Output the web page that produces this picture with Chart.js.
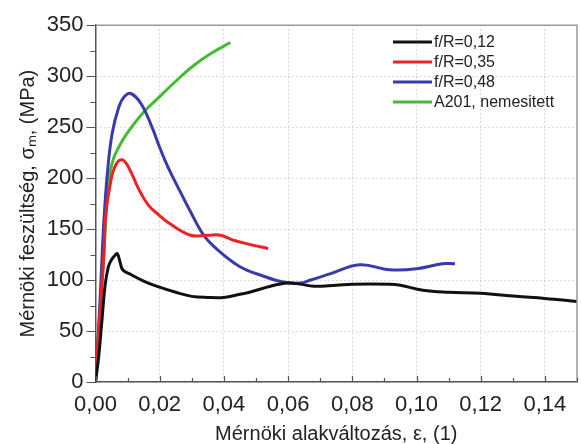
<!DOCTYPE html>
<html>
<head>
<meta charset="utf-8">
<script src="https://cdn.jsdelivr.net/npm/chart.js@4.4.1/dist/chart.umd.min.js"></script>
<style>
  html, body { margin: 0; padding: 0; background: #fff; }
  #wrap { width: 581px; height: 444px; position: relative; }
</style>
</head>
<body>
<div id="wrap"><canvas id="stressChart"></canvas></div>
<script>
// f/R=0,12
const eps012 = [0, 0.001, 0.002, 0.003, 0.004, 0.005, 0.006, 0.0068, 0.0077, 0.0085, 0.0113, 0.0150, 0.0190, 0.025, 0.030, 0.035, 0.040, 0.045, 0.048, 0.0545, 0.060, 0.0637, 0.068, 0.075, 0.080, 0.0917, 0.095, 0.102, 0.110, 0.120, 0.131, 0.140, 0.150];
const sig012 = [0, 25, 60, 95, 113, 120, 124, 126, 117, 110, 105, 99, 94, 88, 84, 83, 83, 86, 88, 94, 97, 96, 94, 95, 96, 96, 95, 90, 88, 87, 84, 82, 79];
// f/R=0,35
const eps035 = [0, 0.0010, 0.0022, 0.0027, 0.0032, 0.0047, 0.0063, 0.0083, 0.0104, 0.0135, 0.0166, 0.0197, 0.0224, 0.0296, 0.0348, 0.039, 0.043, 0.048, 0.0538];
const sig035 = [0, 50, 105, 130, 164, 196, 213, 218, 210, 189, 173, 164, 157, 144, 144, 144, 139, 135, 131];
// f/R=0,48
const eps048 = [0, 0.0010, 0.0017, 0.0026, 0.0037, 0.0052, 0.0073, 0.0090, 0.0110, 0.0142, 0.0176, 0.0200, 0.0224, 0.0265, 0.0296, 0.0337, 0.0379, 0.045, 0.0522, 0.0585, 0.0637, 0.067, 0.073, 0.0823, 0.0917, 0.100, 0.108, 0.112];
const sig048 = [0, 55, 99, 157, 205, 244, 270, 280, 283, 273, 250, 230, 212, 186, 167, 144, 130, 113, 104, 98, 97, 100, 106, 115, 110, 111, 116, 116];
// A201, nemesitett
const epsA201 = [0, 0.0010, 0.0022, 0.0032, 0.0038, 0.0046, 0.0057, 0.0075, 0.0094, 0.0145, 0.0200, 0.0250, 0.0300, 0.0358, 0.0420];
const sigA201 = [0, 50, 105, 160, 190, 207, 220, 232, 242, 263, 280, 295, 309, 322, 333];

const seriesNames = ["f/R=0,12", "f/R=0,35", "f/R=0,48", "A201, nemesitett"];
const seriesColors = ["#111111", "#ee2222", "#3a3aaa", "#44bb33"];

const xTickValues = [0, 0.02, 0.04, 0.06, 0.08, 0.10, 0.12, 0.14];
const xTickLabels = ["0,00", "0,02", "0,04", "0,06", "0,08", "0,10", "0,12", "0,14"];
const yTickValues = [0, 50, 100, 150, 200, 250, 300, 350];
const yTickLabels = ["0", "50", "100", "150", "200", "250", "300", "350"];

function toPoints(xs, ys) {
  return xs.map((x, i) => ({x: x, y: ys[i]}));
}

const allSeries = [
  toPoints(eps012, sig012),
  toPoints(eps035, sig035),
  toPoints(eps048, sig048),
  toPoints(epsA201, sigA201)
];

Chart.defaults.font.family = "'Liberation Sans', Arial, sans-serif";
Chart.defaults.color = "#222";

// frame, minor ticks and the legend box in the upper right
const framePlugin = {
  id: "frame",
  afterDraw(chart) {
    const ctx = chart.ctx;
    const a = chart.chartArea;
    const xs = chart.scales.x;
    const ys = chart.scales.y;
    ctx.save();
    ctx.strokeStyle = "#999";
    ctx.lineWidth = 1.5;
    ctx.beginPath();
    ctx.moveTo(a.left, a.top);
    ctx.lineTo(a.right, a.top);
    ctx.lineTo(a.right, a.bottom);
    ctx.stroke();

    ctx.strokeStyle = "#555";
    ctx.lineWidth = 1.2;
    ctx.beginPath();
    for (let v = 0; v <= 350; v += 25) {
      const py = Math.round(ys.getPixelForValue(v)) + 0.5;
      const len = v % 50 === 0 ? 9 : 5;
      ctx.moveTo(a.left - len, py);
      ctx.lineTo(a.left, py);
    }
    for (let k = 0; k <= 15; k++) {
      const px = Math.round(xs.getPixelForValue(k * 0.01)) + 0.5;
      const len = k % 2 === 0 ? 6 : 4;
      ctx.moveTo(px, a.bottom);
      ctx.lineTo(px, a.bottom - len);
    }
    ctx.stroke();

    // legend
    ctx.font = "16px 'Liberation Sans', Arial, sans-serif";
    ctx.textBaseline = "middle";
    ctx.textAlign = "left";
    seriesNames.forEach((name, i) => {
      const y = 42 + i * 20;
      ctx.strokeStyle = seriesColors[i];
      ctx.lineWidth = 3;
      ctx.beginPath();
      ctx.moveTo(393, y);
      ctx.lineTo(432, y);
      ctx.stroke();
      ctx.fillStyle = "#222";
      ctx.fillText(name, 434, y + 1);
    });
    ctx.restore();
  }
};

const ctx = document.getElementById("stressChart").getContext("2d");
new Chart(ctx, {
  type: "line",
  data: {
    datasets: allSeries.map((pts, i) => ({
      label: seriesNames[i],
      data: pts,
      borderColor: seriesColors[i],
      backgroundColor: seriesColors[i],
      borderWidth: 3,
      pointRadius: 0,
      fill: false,
      tension: 0.4
    }))
  },
  options: {
    responsive: true,
    maintainAspectRatio: false,
    animation: false,
    layout: {padding: {top: 21, right: 4, left: 0, bottom: 0}},
    plugins: {legend: {display: false}, tooltip: {enabled: false}},
    scales: {
      x: {
        type: "linear",
        min: 0,
        max: 0.15,
        afterBuildTicks: (scale) => { scale.ticks = xTickValues.map(v => ({value: v})); },
        afterFit: (scale) => { scale.height = 62; },
        ticks: {
          autoSkip: false,
          maxRotation: 0,
          padding: 10,
          font: {size: 22},
          callback: (value, index) => xTickLabels[index]
        },
        grid: {color: "#bbbbbb", lineWidth: 1, drawTicks: false},
        border: {display: true, color: "#555", width: 1.5, dash: [1, 3]},
        title: {
          display: true,
          text: "Mérnöki alakváltozás, ε, (1)",
          font: {size: 20, lineHeight: 1},
          padding: {top: 0, bottom: 0}
        }
      },
      y: {
        type: "linear",
        min: 0,
        max: 350,
        afterBuildTicks: (scale) => { scale.ticks = yTickValues.map(v => ({value: v})); },
        afterFit: (scale) => { scale.width = 95.5; },
        ticks: {
          padding: 12,
          font: {size: 22},
          callback: (value, index) => yTickLabels[index]
        },
        grid: {color: "#bbbbbb", lineWidth: 1, drawTicks: false},
        border: {display: true, color: "#555", width: 1.5, dash: [1, 3]},
        title: {
          display: true,
          text: "Mérnöki feszültség, σₘ, (MPa)",
          font: {size: 20, lineHeight: 1.2},
          padding: {top: 16, bottom: 0}
        }
      }
    }
  },
  plugins: [framePlugin]
});
</script>
</body>
</html>
